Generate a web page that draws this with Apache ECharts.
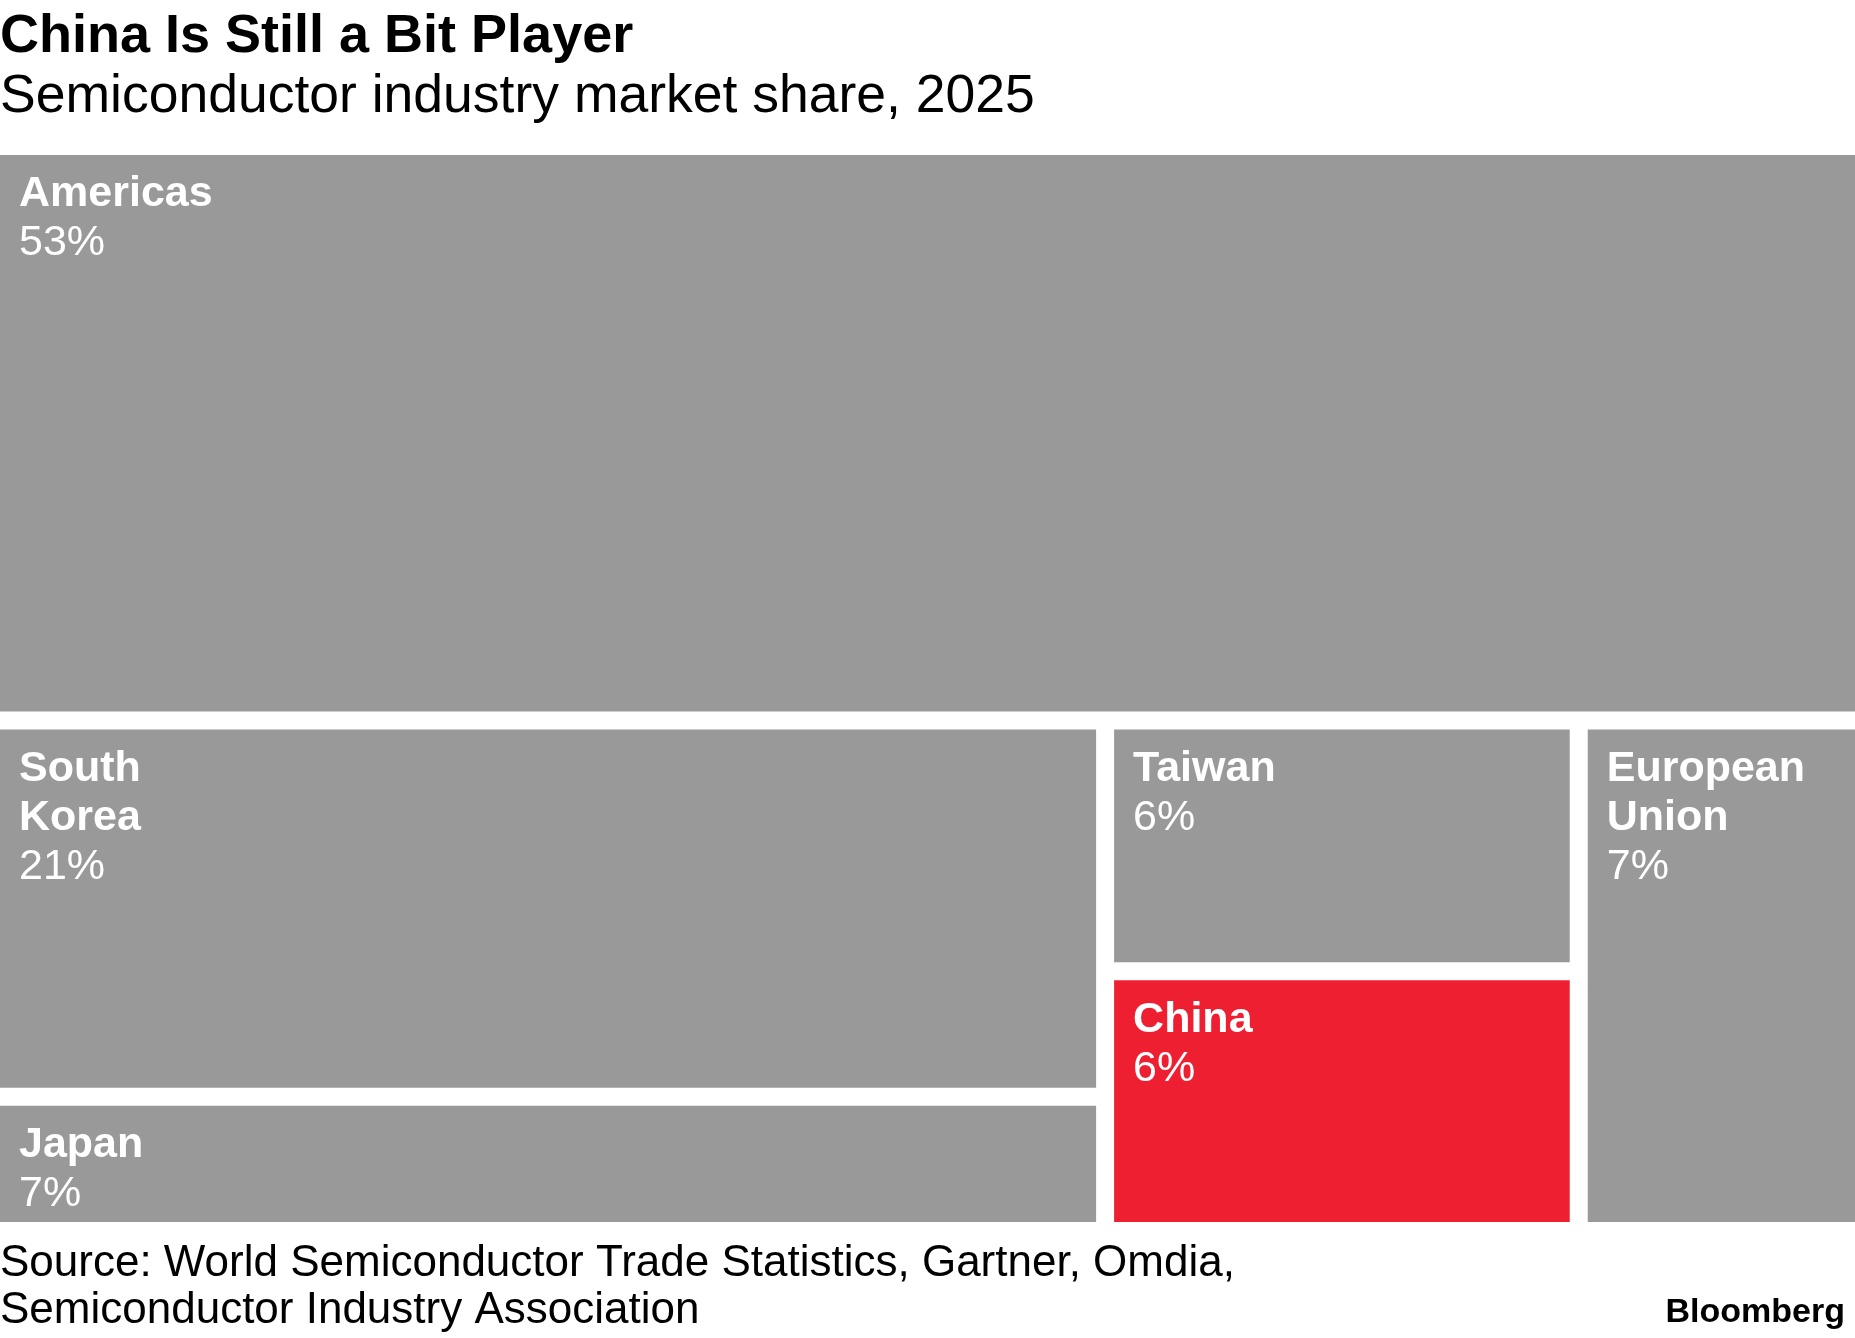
<!DOCTYPE html>
<html>
<head>
<meta charset="utf-8">
<title>China Is Still a Bit Player</title>
<script src="https://cdn.jsdelivr.net/npm/echarts@6/dist/echarts.min.js"></script>
<style>
  html, body { margin: 0; padding: 0; background: #fff; }
  #chart { width: 1855px; height: 1338px; }
</style>
</head>
<body>
<div id="chart"></div>
<script>
// semiconductor industry market share by region, 2025 (%)
var regions = ['Americas', 'South Korea', 'Japan', 'Taiwan', 'China', 'European Union'];
var labels = ['Americas', 'South\nKorea', 'Japan', 'Taiwan', 'China', 'European\nUnion'];
var shares = [53, 21, 7, 6, 6, 7];

// block grouping: one full-width row on top, then the columns of the bottom row
var topRow = ['Americas'];
var bottomColumns = [['South Korea', 'Japan'], ['Taiwan', 'China'], ['European Union']];
var highlight = 'China';

var FONT = '"Liberation Sans", Arial, Helvetica, sans-serif';
var GREY = '#999999';
var RED = '#ee1f30';

function shareOf(name) {
    return shares[regions.indexOf(name)];
}
function sumOf(names) {
    return names.reduce(function (s, n) { return s + shareOf(n); }, 0);
}

// slice-and-dice layout in axis units (0..100 on both axes)
var cells = {};
var total = sumOf(regions);
var topShare = sumOf(topRow);
var yTop = topShare / total * 100;
var x = 0;
topRow.forEach(function (n) {
    var w = shareOf(n) / topShare * 100;
    cells[n] = [x, 0, x + w, yTop];
    x += w;
});
var bottomShare = total - topShare;
x = 0;
bottomColumns.forEach(function (col) {
    var colShare = sumOf(col);
    var w = colShare / bottomShare * 100;
    var y = yTop;
    col.forEach(function (n) {
        var h = shareOf(n) / colShare * (100 - yTop);
        cells[n] = [x, y, x + w, y + h];
        y += h;
    });
    x += w;
});

var seriesData = regions.map(function (n, i) {
    return { name: n, value: cells[n].concat(shares[i]) };
});

var HALF_GAP = 9;

function renderItem(params, api) {
    var x0 = api.value(0), y0 = api.value(1), x1 = api.value(2), y1 = api.value(3);
    var p0 = api.coord([x0, y0]);
    var p1 = api.coord([x1, y1]);
    var left = p0[0] + (x0 > 0.001 ? HALF_GAP : 0);
    var right = p1[0] - (x1 < 99.999 ? HALF_GAP : 0);
    var top = p0[1] + (y0 > 0.001 ? HALF_GAP : 0);
    var bottom = p1[1] - (y1 < 99.999 ? HALF_GAP : 0);
    var i = params.dataIndex;
    var nameLines = labels[i].split('\n').map(function (s) { return '{n|' + s + '}'; });
    return {
        type: 'group',
        children: [
            {
                type: 'rect',
                shape: { x: left, y: top, width: right - left, height: bottom - top },
                style: { fill: regions[i] === highlight ? RED : GREY }
            },
            {
                type: 'text',
                x: left + 19,
                y: top + 15,
                style: {
                    text: nameLines.join('\n') + '\n{v|' + api.value(4) + '%}',
                    fill: '#fff',
                    verticalAlign: 'top',
                    align: 'left',
                    rich: {
                        n: { fontSize: 43, fontWeight: 'bold', lineHeight: 49, fill: '#fff', fontFamily: FONT },
                        v: { fontSize: 43, lineHeight: 49, fill: '#fff', fontFamily: FONT }
                    }
                }
            }
        ]
    };
}

var option = {
    backgroundColor: '#fff',
    animation: false,
    title: [
        {
            text: 'China Is Still a Bit Player',
            left: 0, top: 7, padding: 0,
            textStyle: { fontFamily: FONT, fontSize: 54, fontWeight: 'bold', color: '#000', lineHeight: 60 }
        },
        {
            text: 'Semiconductor industry market share, 2025',
            left: 0, top: 67, padding: 0,
            textStyle: { fontFamily: FONT, fontSize: 53.5, fontWeight: 'normal', color: '#000', lineHeight: 60 }
        },
        {
            text: 'Source: World Semiconductor Trade Statistics, Gartner, Omdia,\nSemiconductor Industry Association',
            left: 0, top: 1240, padding: 0,
            textStyle: { fontFamily: FONT, fontSize: 44, fontWeight: 'normal', color: '#000', lineHeight: 47 }
        },
        {
            text: 'Bloomberg',
            right: 10, top: 1293, padding: 0,
            textStyle: { fontFamily: FONT, fontSize: 34, fontWeight: 'bold', color: '#000', lineHeight: 40 }
        }
    ],
    grid: { left: 0, right: 0, top: 155, bottom: 116 },
    xAxis: { type: 'value', min: 0, max: 100, show: false },
    yAxis: { type: 'value', min: 0, max: 100, inverse: true, show: false },
    tooltip: { show: false },
    series: [
        {
            type: 'custom',
            renderItem: renderItem,
            data: seriesData,
            encode: { x: [0, 2], y: [1, 3] },
            silent: true
        }
    ]
};

var chart = echarts.init(document.getElementById('chart'));
chart.setOption(option);
</script>
</body>
</html>
